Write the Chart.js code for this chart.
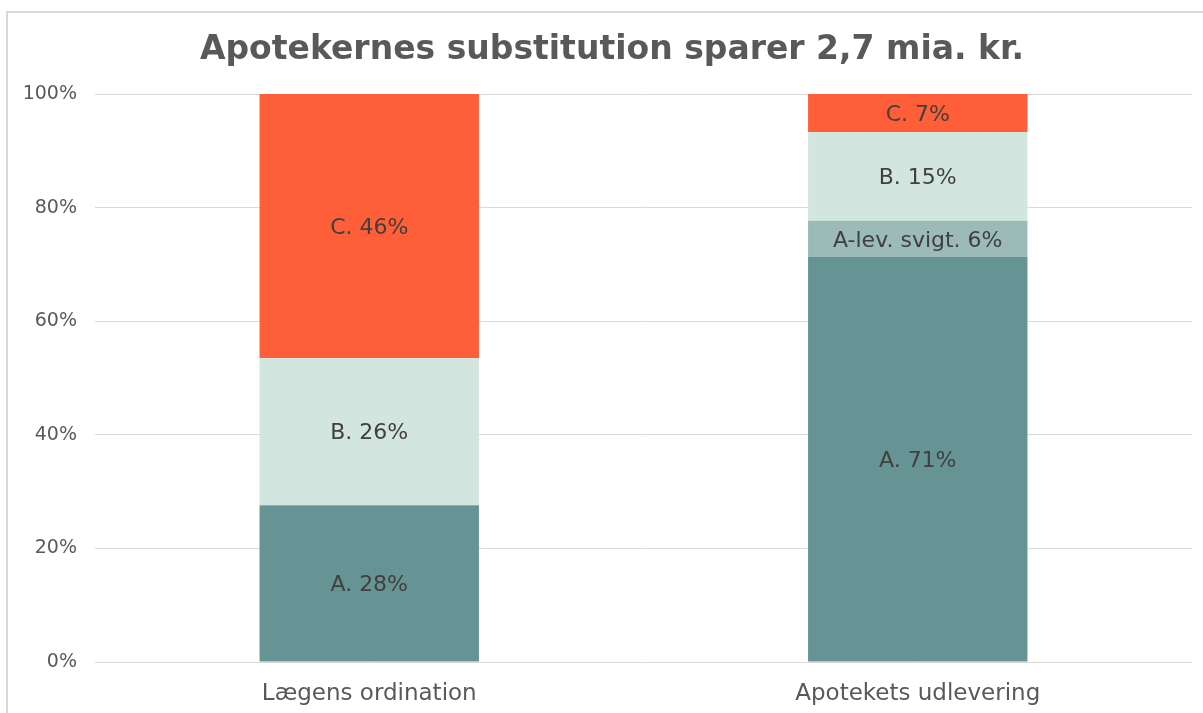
<!DOCTYPE html>
<html><head><meta charset="utf-8">
<script src="https://cdn.jsdelivr.net/npm/chart.js@4/dist/chart.umd.min.js"></script>
<style>html,body{margin:0;padding:0;background:#fff}#wrap{width:1203px;height:713px;position:relative}</style>
</head><body><div id="wrap"><canvas id="c" width="1203" height="713"></canvas></div>
<script>
const categories = ["Lægens ordination", "Apotekets udlevering"];
const seriesNames = ["A.", "A-lev. svigt.", "B.", "C."];
const valuesA = [27.6, 71.3];
const valuesALev = [null, 6.4];
const valuesB = [25.9, 15.6];
const valuesC = [46.5, 6.7];
const labelsA = ["A. 28%", "A. 71%"];
const labelsALev = ["", "A-lev. svigt. 6%"];
const labelsB = ["B. 26%", "B. 15%"];
const labelsC = ["C. 46%", "C. 7%"];
const yTicks = [0, 20, 40, 60, 80, 100];
const titleText = "Apotekernes substitution sparer 2,7 mia. kr.";

const colors = ["#669495", "#9bbab8", "#d3e5df", "#ff5f38"];
const FONT = "'DejaVu Sans', Verdana, sans-serif";

const labelPlugin = {
  id: 'segLabels',
  afterDatasetsDraw(chart) {
    const ctx = chart.ctx;
    ctx.save();
    ctx.font = "22px " + FONT;
    ctx.fillStyle = "#404040";
    ctx.textAlign = "center";
    ctx.textBaseline = "middle";
    chart.data.datasets.forEach((ds, i) => {
      const meta = chart.getDatasetMeta(i);
      meta.data.forEach((bar, j) => {
        const t = ds.segLabels[j];
        if (!t || ds.data[j] == null) return;
        const p = bar.getProps(['x','y','base'], true);
        ctx.fillText(t, p.x, (p.y + p.base) / 2 + 2);
      });
    });
    ctx.restore();
  }
};
const framePlugin = {
  id: 'frame',
  beforeDraw(chart) {
    const ctx = chart.ctx;
    ctx.save();
    ctx.fillStyle = "#fff";
    ctx.fillRect(0, 0, chart.width, chart.height);
    ctx.strokeStyle = "#d9d9d9";
    ctx.lineWidth = 2;
    ctx.strokeRect(7, 12, chart.width + 20, chart.height + 20);
    ctx.restore();
  }
};

new Chart(document.getElementById('c'), {
  type: 'bar',
  data: {
    labels: categories,
    datasets: [
      { label: seriesNames[0], data: valuesA, backgroundColor: colors[0], segLabels: labelsA },
      { label: seriesNames[1], data: valuesALev, backgroundColor: colors[1], segLabels: labelsALev },
      { label: seriesNames[2], data: valuesB, backgroundColor: colors[2], segLabels: labelsB },
      { label: seriesNames[3], data: valuesC, backgroundColor: colors[3], segLabels: labelsC }
    ]
  },
  plugins: [framePlugin, labelPlugin],
  options: {
    responsive: false,
    animation: false,
    devicePixelRatio: 1,
    datasets: { bar: { categoryPercentage: 1.0, barPercentage: 0.4, borderWidth: 0 } },
    layout: { padding: { left: 21, right: 0, top: 0, bottom: 0 } },
    plugins: {
      legend: { display: false },
      tooltip: { enabled: false },
      title: {
        display: true,
        text: titleText,
        color: "#595959",
        font: { family: FONT, size: 33, weight: 'bold', lineHeight: 1.2 },
        padding: { top: 31, bottom: 23.4 }
      }
    },
    scales: {
      x: {
        stacked: true,
        afterFit(scale) { scale.height = 51; },
        grid: { display: false, drawTicks: false },
        border: { display: false },
        ticks: { color: "#595959", font: { family: FONT, size: 23, lineHeight: 1.2 }, padding: 18, maxRotation: 0 }
      },
      y: {
        stacked: true,
        min: 0, max: 100,
        afterFit(scale) { scale.width = 74; },
        afterBuildTicks(scale) { scale.ticks = yTicks.map(v => ({ value: v })); },
        grid: { color: "#d9d9d9", lineWidth: 1, drawTicks: false },
        border: { display: false },
        ticks: { color: "#595959", font: { family: FONT, size: 19 }, padding: 18,
          callback: v => v + "%" }
      },
      yRight: {
        position: 'right',
        min: 0, max: 100,
        afterFit(scale) { scale.width = 11; },
        grid: { display: false, drawTicks: false },
        border: { display: false },
        ticks: { display: false }
      }
    }
  }
});
</script></body></html>
